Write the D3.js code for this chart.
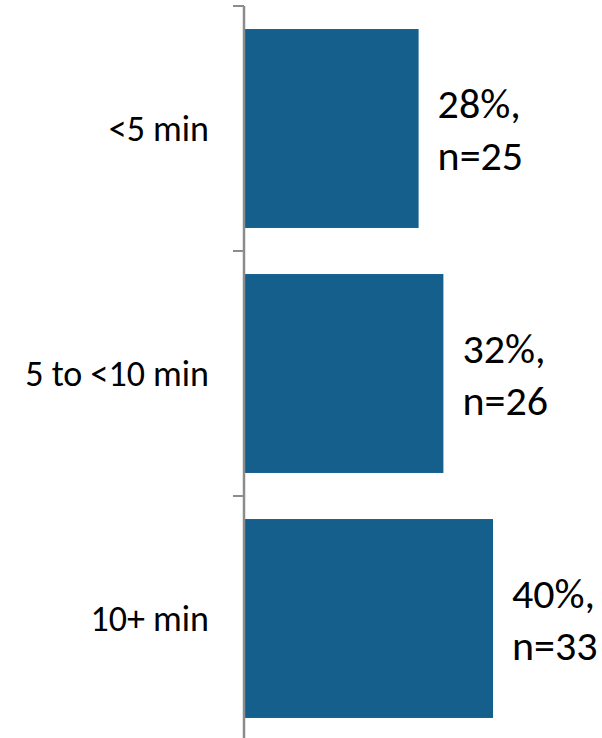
<!DOCTYPE html>
<html><head><meta charset="utf-8">
<script src="https://cdn.jsdelivr.net/npm/d3@7"></script>
<style>body{margin:0;background:#fff}svg{display:block}</style>
</head><body>
<svg id="c" width="602" height="738"></svg>
<script>
const categories = ["<5 min", "5 to <10 min", "10+ min"];
const values = [28, 32, 40];
const counts = [25, 26, 33];

const svg = d3.select("#c");
const font = "Carlito, Lato, 'Open Sans', sans-serif";
const x0 = 245;
const x = d3.scaleLinear().domain([0, 60]).range([x0, x0 + 372]);
const pad = 0.188;
const y = d3.scaleBand().domain(categories).range([6, 741]).paddingInner(pad).paddingOuter(pad / 2);
const step = y.step();

// bars
svg.selectAll("rect.bar").data(categories).join("rect")
  .attr("x", x(0)).attr("y", d => y(d))
  .attr("width", (d, i) => x(values[i]) - x(0))
  .attr("height", y.bandwidth())
  .attr("fill", "#155f8d");

// axis line + boundary ticks
const bounds = categories.map(c => y(c) - step * pad / 2).concat([y(categories[2]) + y.bandwidth() + step * pad / 2]);
svg.append("line").attr("x1", 244).attr("x2", 244).attr("y1", bounds[0]).attr("y2", 738)
  .attr("stroke", "#8c8c8c").attr("stroke-width", 2.5);
svg.selectAll("line.tick").data(bounds).join("line")
  .attr("x1", 233).attr("x2", 244).attr("y1", d => d).attr("y2", d => d)
  .attr("stroke", "#8c8c8c").attr("stroke-width", 2);

// category labels
const ax = svg.append("g").attr("transform", "translate(244,0)")
  .call(d3.axisLeft(y).tickSize(0).tickPadding(35));
ax.select(".domain").remove();
ax.selectAll("text").attr("font-family", font).attr("font-size", 36).attr("fill", "#000")
  .attr("dy", "0.35em");

// value labels
const lg = svg.selectAll("g.vl").data(categories).join("g")
  .attr("transform", (d, i) => `translate(${x(values[i]) + 19},${y(d) + y.bandwidth() / 2})`);
lg.append("text").attr("y", -11).attr("font-family", font).attr("font-size", 42).attr("fill", "#000")
  .text((d, i) => values[i] + "%,");
lg.append("text").attr("y", 41).attr("font-family", font).attr("font-size", 42).attr("fill", "#000")
  .text((d, i) => "n=" + counts[i]);
</script>
</body></html>
